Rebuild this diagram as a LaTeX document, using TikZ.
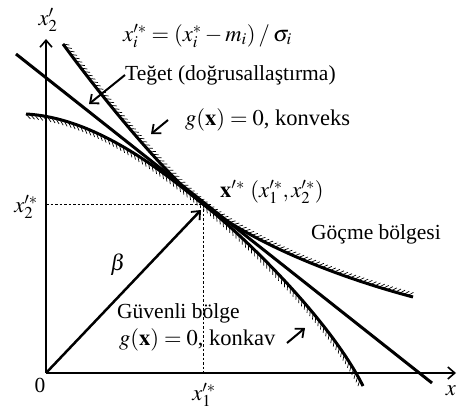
\documentclass[tikz,border=0pt]{standalone}
\usepackage{mathptmx}
\usepackage[no-math]{fontspec}
\setmainfont{Liberation Serif}
\usetikzlibrary{arrows.meta,decorations.pathreplacing}
\tikzset{
  x=1pt,y=-1pt,
  every node/.style={font=\fontsize{21.5}{23}\selectfont, inner sep=0pt},
  mathlabel/.style={font=\fontsize{22.5}{24}\selectfont},
  axis/.style={line width=2pt,-{Straight Barb[length=7pt,width=12pt,line width=1.6pt]}},
  curve/.style={line width=3pt},
  hatchL/.style={line width=0.7pt, decorate, decoration={border, segment length=4.3pt, amplitude=6.5pt, angle=45}},
  hatchR/.style={line width=0.7pt, decorate, decoration={border, segment length=4.3pt, amplitude=6.5pt, angle=45, mirror}},
  pointer/.style={line width=2pt,-{Straight Barb[length=7pt,width=12pt,line width=1.8pt]}},
  guide/.style={line width=0.8pt, dash pattern=on 2.5pt off 2pt},
}
\begin{document}
\begin{tikzpicture}
\useasboundingbox (0,0) rectangle (457,412);
\coordinate (O) at (46,373);
\coordinate (Ytip) at (46,39);
\coordinate (Xtip) at (456,373);
\coordinate (P) at (203,204);
\coordinate (Px) at (203,373);
\coordinate (Py) at (46,204);
% axes
\draw[axis] (O) -- (Ytip);
\draw[axis] (O) -- (Xtip);
% dashed guides
\draw[guide] (Py) -- (P) -- (Px);
% tangent
\coordinate (T1) at (16,54);
\coordinate (T2) at (432,383);
\draw[curve] (T1) -- (T2);
% curve A (convex)
\coordinate (A1) at (63,44);
\coordinate (A2) at (413,297);
\draw[curve] (A1) .. controls (95,88) and (160,170) .. (P) .. controls (250,241) and (330,275) .. (A2);
\draw[hatchL] (A1) .. controls (95,88) and (160,170) .. (P) .. controls (250,241) and (330,275) .. (A2);
% curve B (concave)
\coordinate (B1) at (26,114);
\coordinate (B2) at (363,386);
\draw[curve] (B1) .. controls (100,118) and (170,178) .. (P) .. controls (245,237) and (330,320) .. (B2);
\draw[hatchR] (B1) .. controls (100,118) and (170,178) .. (P) .. controls (245,237) and (330,320) .. (B2);
% beta
\draw[line width=2.5pt,-{Straight Barb[length=7pt,width=12pt,line width=1.8pt]}] (O) -- (201,210);
% labels
\node[mathlabel] (lx2) at (48,20) {$x'_2$};
\node[mathlabel,anchor=west] (form) at (123,36) {$x'^{*}_{i} = (x^{*}_{i} - m_{i})\:/\:\sigma_{i}$};
\node[anchor=west] (teget) at (125,75) {Teğet (doğrusallaştırma)};
\node[mathlabel,anchor=west] (konveks) at (185,120) {$g(\mathbf{x}) = 0$, konveks};
\node[mathlabel,anchor=west] (xs) at (220,192) {$\mathbf{x}'^{*}\ (x'^{*}_{1}, x'^{*}_{2})$};
\node[anchor=west] (gocme) at (311,234) {Göçme bölgesi};
\node[mathlabel] (lx2s) at (26,207) {$x'^{*}_{2}$};
\node[mathlabel] (beta) at (118,265) {$\beta$};
\node[anchor=west] (guv) at (117,313) {Güvenli bölge};
\node[mathlabel,anchor=west] (konkav) at (119,340) {$g(\mathbf{x}) = 0$, konkav};
\node (zero) at (40,385) {0};
\node[mathlabel] (lx1s) at (204,395) {$x'^{*}_{1}$};
\node[mathlabel] (lx) at (451,391) {$x$};
% pointers
\coordinate (tg) at (89,104);
\draw[pointer] (teget.west) -- (tg);
\coordinate (cv0) at (168,120);
\coordinate (cv) at (151,134);
\draw[pointer] (cv0) -- (cv);
\coordinate (cc0) at (287,343);
\coordinate (cc) at (305,328);
\draw[pointer] (cc0) -- (cc);
\end{tikzpicture}
\end{document}
